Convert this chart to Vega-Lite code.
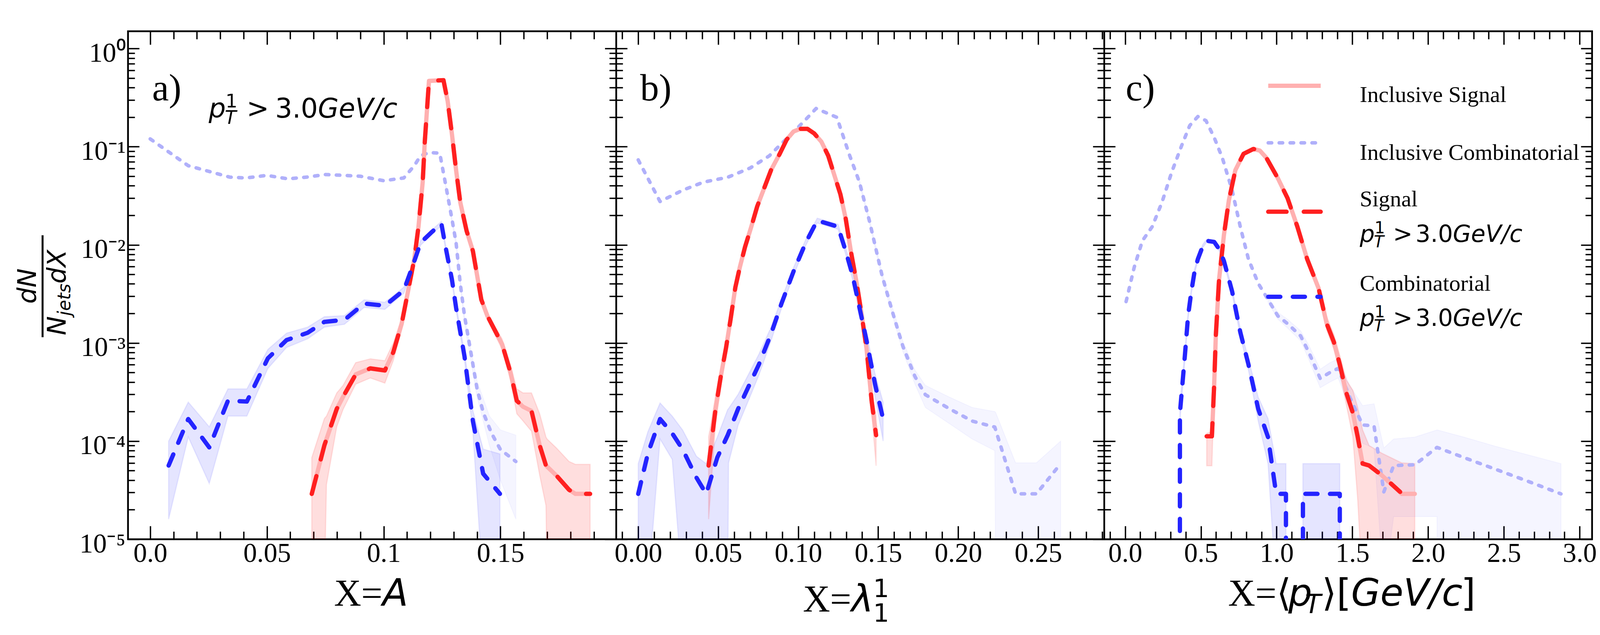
{
"$schema":"https://vega.github.io/schema/vega-lite/v6.json",
"background":"white",
"autosize":{"type":"none"},
"width":3748,"height":1300,
"padding":{"left":327.7,"top":80,"right":20.3,"bottom":245},
"config":{"view":{"stroke":"black","strokeWidth":4.5,"fill":null},"axis":{"domain":false,"grid":false,"tickColor":"black","labelColor":"black","tickCap":"butt"}},
"datasets":{
"lines":[
{"p":"a","s":"ic","x":0,"y":0.12},{"p":"a","s":"ic","x":0.0163,"y":0.064},{"p":"a","s":"ic","x":0.034,"y":0.049},{"p":"a","s":"ic","x":0.041,"y":0.048},{"p":"a","s":"ic","x":0.05,"y":0.051},{"p":"a","s":"ic","x":0.059,"y":0.047},{"p":"a","s":"ic","x":0.067,"y":0.049},{"p":"a","s":"ic","x":0.075,"y":0.052},{"p":"a","s":"ic","x":0.083,"y":0.051},{"p":"a","s":"ic","x":0.09,"y":0.05},{"p":"a","s":"ic","x":0.1,"y":0.045},{"p":"a","s":"ic","x":0.1086,"y":0.048},{"p":"a","s":"ic","x":0.1131,"y":0.064},{"p":"a","s":"ic","x":0.1158,"y":0.081},{"p":"a","s":"ic","x":0.1194,"y":0.087},{"p":"a","s":"ic","x":0.124,"y":0.086},{"p":"a","s":"ic","x":0.1265,"y":0.0415},{"p":"a","s":"ic","x":0.1292,"y":0.0185},{"p":"a","s":"ic","x":0.131,"y":0.0105},{"p":"a","s":"ic","x":0.1328,"y":0.004},{"p":"a","s":"ic","x":0.1346,"y":0.0019},{"p":"a","s":"ic","x":0.1373,"y":0.00081},{"p":"a","s":"ic","x":0.14,"y":0.00034},{"p":"a","s":"ic","x":0.1427,"y":0.000194},{"p":"a","s":"ic","x":0.1462,"y":0.00012},{"p":"a","s":"ic","x":0.15,"y":0.000082},{"p":"a","s":"ic","x":0.1566,"y":0.000062},
{"p":"a","s":"sig","x":0.0692,"y":0.000029},{"p":"a","s":"sig","x":0.0746,"y":0.0000906},{"p":"a","s":"sig","x":0.0799,"y":0.000213},{"p":"a","s":"sig","x":0.0826,"y":0.000283},{"p":"a","s":"sig","x":0.088,"y":0.000478},{"p":"a","s":"sig","x":0.0943,"y":0.000551},{"p":"a","s":"sig","x":0.1005,"y":0.000525},{"p":"a","s":"sig","x":0.1041,"y":0.000805},{"p":"a","s":"sig","x":0.1077,"y":0.00157},{"p":"a","s":"sig","x":0.1104,"y":0.00335},{"p":"a","s":"sig","x":0.1131,"y":0.00716},{"p":"a","s":"sig","x":0.1149,"y":0.0153},{"p":"a","s":"sig","x":0.1167,"y":0.0435},{"p":"a","s":"sig","x":0.1176,"y":0.1125},{"p":"a","s":"sig","x":0.1194,"y":0.468},{"p":"a","s":"sig","x":0.1256,"y":0.476},{"p":"a","s":"sig","x":0.1274,"y":0.291},{"p":"a","s":"sig","x":0.1292,"y":0.136},{"p":"a","s":"sig","x":0.131,"y":0.0578},{"p":"a","s":"sig","x":0.1328,"y":0.0271},{"p":"a","s":"sig","x":0.1355,"y":0.0139},{"p":"a","s":"sig","x":0.1382,"y":0.00865},{"p":"a","s":"sig","x":0.1418,"y":0.00277},{"p":"a","s":"sig","x":0.1444,"y":0.00189},{"p":"a","s":"sig","x":0.1507,"y":0.000973},{"p":"a","s":"sig","x":0.1543,"y":0.000501},{"p":"a","s":"sig","x":0.157,"y":0.000258},{"p":"a","s":"sig","x":0.1597,"y":0.000224},{"p":"a","s":"sig","x":0.1633,"y":0.000203},{"p":"a","s":"sig","x":0.1668,"y":0.0000906},{"p":"a","s":"sig","x":0.1695,"y":0.0000564},{"p":"a","s":"sig","x":0.174,"y":0.0000445},{"p":"a","s":"sig","x":0.1794,"y":0.0000319},{"p":"a","s":"sig","x":0.1821,"y":0.000029},{"p":"a","s":"sig","x":0.1884,"y":0.000029},
{"p":"a","s":"cb","x":0.00789,"y":0.0000564},{"p":"a","s":"cb","x":0.0163,"y":0.000168},{"p":"a","s":"cb","x":0.0253,"y":0.0000863},{"p":"a","s":"cb","x":0.0333,"y":0.000258},{"p":"a","s":"cb","x":0.0414,"y":0.000253},{"p":"a","s":"cb","x":0.0504,"y":0.000698},{"p":"a","s":"cb","x":0.0584,"y":0.00107},{"p":"a","s":"cb","x":0.0674,"y":0.00127},{"p":"a","s":"cb","x":0.0746,"y":0.00164},{"p":"a","s":"cb","x":0.0832,"y":0.00172},{"p":"a","s":"cb","x":0.0916,"y":0.00252},{"p":"a","s":"cb","x":0.1005,"y":0.0024},{"p":"a","s":"cb","x":0.1086,"y":0.00344},{"p":"a","s":"cb","x":0.1122,"y":0.0059},{"p":"a","s":"cb","x":0.1158,"y":0.0105},{"p":"a","s":"cb","x":0.1203,"y":0.0133},{"p":"a","s":"cb","x":0.1247,"y":0.0165},{"p":"a","s":"cb","x":0.1265,"y":0.00952},{"p":"a","s":"cb","x":0.1292,"y":0.00446},{"p":"a","s":"cb","x":0.131,"y":0.00229},{"p":"a","s":"cb","x":0.1346,"y":0.000732},{"p":"a","s":"cb","x":0.1382,"y":0.00016},{"p":"a","s":"cb","x":0.1426,"y":0.0000466},{"p":"a","s":"cb","x":0.1498,"y":0.000029},
{"p":"b","s":"ic","x":0,"y":0.0734},{"p":"b","s":"ic","x":0.01366,"y":0.0276},{"p":"b","s":"ic","x":0.02775,"y":0.036},{"p":"b","s":"ic","x":0.04076,"y":0.0435},{"p":"b","s":"ic","x":0.05594,"y":0.0488},{"p":"b","s":"ic","x":0.07003,"y":0.0607},{"p":"b","s":"ic","x":0.08196,"y":0.0807},{"p":"b","s":"ic","x":0.08955,"y":0.1074},{"p":"b","s":"ic","x":0.09605,"y":0.136},{"p":"b","s":"ic","x":0.1036,"y":0.181},{"p":"b","s":"ic","x":0.1112,"y":0.245},{"p":"b","s":"ic","x":0.1242,"y":0.199},{"p":"b","s":"ic","x":0.1318,"y":0.0846},{"p":"b","s":"ic","x":0.1383,"y":0.0435},{"p":"b","s":"ic","x":0.1448,"y":0.0168},{"p":"b","s":"ic","x":0.1524,"y":0.00489},{"p":"b","s":"ic","x":0.1589,"y":0.00208},{"p":"b","s":"ic","x":0.1654,"y":0.000929},{"p":"b","s":"ic","x":0.173,"y":0.000455},{"p":"b","s":"ic","x":0.1795,"y":0.000297},{"p":"b","s":"ic","x":0.1947,"y":0.000213},{"p":"b","s":"ic","x":0.2088,"y":0.00016},{"p":"b","s":"ic","x":0.2229,"y":0.000139},{"p":"b","s":"ic","x":0.2359,"y":0.000029},{"p":"b","s":"ic","x":0.2489,"y":0.000029},{"p":"b","s":"ic","x":0.2641,"y":0.000059},
{"p":"b","s":"sig","x":0.044,"y":0.0000564},{"p":"b","s":"sig","x":0.04835,"y":0.000213},{"p":"b","s":"sig","x":0.0516,"y":0.000455},{"p":"b","s":"sig","x":0.05486,"y":0.000885},{"p":"b","s":"sig","x":0.05768,"y":0.00172},{"p":"b","s":"sig","x":0.06071,"y":0.00368},{"p":"b","s":"sig","x":0.06353,"y":0.00592},{"p":"b","s":"sig","x":0.06678,"y":0.00952},{"p":"b","s":"sig","x":0.07069,"y":0.0153},{"p":"b","s":"sig","x":0.07437,"y":0.0246},{"p":"b","s":"sig","x":0.07871,"y":0.0377},{"p":"b","s":"sig","x":0.08305,"y":0.0578},{"p":"b","s":"sig","x":0.08846,"y":0.0846},{"p":"b","s":"sig","x":0.0928,"y":0.118},{"p":"b","s":"sig","x":0.09714,"y":0.143},{"p":"b","s":"sig","x":0.1015,"y":0.152},{"p":"b","s":"sig","x":0.1058,"y":0.152},{"p":"b","s":"sig","x":0.1101,"y":0.136},{"p":"b","s":"sig","x":0.1145,"y":0.1125},{"p":"b","s":"sig","x":0.1188,"y":0.0807},{"p":"b","s":"sig","x":0.1232,"y":0.0478},{"p":"b","s":"sig","x":0.1264,"y":0.0327},{"p":"b","s":"sig","x":0.1297,"y":0.0185},{"p":"b","s":"sig","x":0.1329,"y":0.00865},{"p":"b","s":"sig","x":0.1366,"y":0.00405},{"p":"b","s":"sig","x":0.1394,"y":0.00208},{"p":"b","s":"sig","x":0.1427,"y":0.000885},{"p":"b","s":"sig","x":0.1459,"y":0.000258},{"p":"b","s":"sig","x":0.1487,"y":0.000115},
{"p":"b","s":"cb","x":0,"y":0.000029},{"p":"b","s":"cb","x":0.00607,"y":0.000075},{"p":"b","s":"cb","x":0.01366,"y":0.000168},{"p":"b","s":"cb","x":0.02125,"y":0.00012},{"p":"b","s":"cb","x":0.02775,"y":0.0000824},{"p":"b","s":"cb","x":0.03643,"y":0.0000424},{"p":"b","s":"cb","x":0.0425,"y":0.000029},{"p":"b","s":"cb","x":0.04944,"y":0.0000681},{"p":"b","s":"cb","x":0.05594,"y":0.000115},{"p":"b","s":"cb","x":0.06245,"y":0.000213},{"p":"b","s":"cb","x":0.06895,"y":0.000359},{"p":"b","s":"cb","x":0.07546,"y":0.000605},{"p":"b","s":"cb","x":0.08305,"y":0.00124},{"p":"b","s":"cb","x":0.08955,"y":0.00252},{"p":"b","s":"cb","x":0.09714,"y":0.00538},{"p":"b","s":"cb","x":0.1047,"y":0.0105},{"p":"b","s":"cb","x":0.1119,"y":0.0177},{"p":"b","s":"cb","x":0.1249,"y":0.0153},{"p":"b","s":"cb","x":0.1297,"y":0.00865},{"p":"b","s":"cb","x":0.134,"y":0.00489},{"p":"b","s":"cb","x":0.1383,"y":0.00229},{"p":"b","s":"cb","x":0.1427,"y":0.00107},{"p":"b","s":"cb","x":0.1481,"y":0.000377},{"p":"b","s":"cb","x":0.1531,"y":0.000168},
{"p":"c","s":"ic","x":0.0065,"y":0.00264},{"p":"c","s":"ic","x":0.0603,"y":0.00592},{"p":"c","s":"ic","x":0.1141,"y":0.011},{"p":"c","s":"ic","x":0.1787,"y":0.0153},{"p":"c","s":"ic","x":0.2433,"y":0.0271},{"p":"c","s":"ic","x":0.3079,"y":0.0552},{"p":"c","s":"ic","x":0.3725,"y":0.102},{"p":"c","s":"ic","x":0.4264,"y":0.164},{"p":"c","s":"ic","x":0.4802,"y":0.203},{"p":"c","s":"ic","x":0.534,"y":0.184},{"p":"c","s":"ic","x":0.5879,"y":0.124},{"p":"c","s":"ic","x":0.6417,"y":0.0769},{"p":"c","s":"ic","x":0.7063,"y":0.036},{"p":"c","s":"ic","x":0.7601,"y":0.0153},{"p":"c","s":"ic","x":0.814,"y":0.00716},{"p":"c","s":"ic","x":0.8786,"y":0.00405},{"p":"c","s":"ic","x":0.9432,"y":0.00277},{"p":"c","s":"ic","x":1.0078,"y":0.00189},{"p":"c","s":"ic","x":1.0724,"y":0.00157},{"p":"c","s":"ic","x":1.1585,"y":0.00118},{"p":"c","s":"ic","x":1.2123,"y":0.000805},{"p":"c","s":"ic","x":1.2877,"y":0.000435},{"p":"c","s":"ic","x":1.3523,"y":0.000501},{"p":"c","s":"ic","x":1.4061,"y":0.000551},{"p":"c","s":"ic","x":1.4815,"y":0.000283},{"p":"c","s":"ic","x":1.5676,"y":0.000146},{"p":"c","s":"ic","x":1.643,"y":0.000143},{"p":"c","s":"ic","x":1.7076,"y":0.0000304},{"p":"c","s":"ic","x":1.7722,"y":0.0000564},{"p":"c","s":"ic","x":1.9121,"y":0.0000574},{"p":"c","s":"ic","x":2.0586,"y":0.0000863},{"p":"c","s":"ic","x":2.2351,"y":0.0000681},{"p":"c","s":"ic","x":2.4505,"y":0.0000513},{"p":"c","s":"ic","x":2.6658,"y":0.0000386},{"p":"c","s":"ic","x":2.8768,"y":0.000029},
{"p":"c","s":"sig","x":0.5383,"y":0.000112},{"p":"c","s":"sig","x":0.5728,"y":0.000112},{"p":"c","s":"sig","x":0.5879,"y":0.000377},{"p":"c","s":"sig","x":0.5986,"y":0.00118},{"p":"c","s":"sig","x":0.6202,"y":0.00446},{"p":"c","s":"sig","x":0.6525,"y":0.0127},{"p":"c","s":"sig","x":0.6848,"y":0.0284},{"p":"c","s":"sig","x":0.7278,"y":0.0578},{"p":"c","s":"sig","x":0.7817,"y":0.0846},{"p":"c","s":"sig","x":0.8463,"y":0.0948},{"p":"c","s":"sig","x":0.8893,"y":0.0913},{"p":"c","s":"sig","x":0.9324,"y":0.0769},{"p":"c","s":"sig","x":1.0078,"y":0.0478},{"p":"c","s":"sig","x":1.0724,"y":0.0298},{"p":"c","s":"sig","x":1.137,"y":0.0153},{"p":"c","s":"sig","x":1.2016,"y":0.00716},{"p":"c","s":"sig","x":1.2769,"y":0.00361},{"p":"c","s":"sig","x":1.3307,"y":0.00157},{"p":"c","s":"sig","x":1.3781,"y":0.00102},{"p":"c","s":"sig","x":1.4169,"y":0.000605},{"p":"c","s":"sig","x":1.4599,"y":0.000311},{"p":"c","s":"sig","x":1.503,"y":0.000194},{"p":"c","s":"sig","x":1.5353,"y":0.00011},{"p":"c","s":"sig","x":1.5676,"y":0.000059},{"p":"c","s":"sig","x":1.6107,"y":0.0000564},{"p":"c","s":"sig","x":1.6968,"y":0.0000445},{"p":"c","s":"is","x":1.826,"y":0.000029},{"p":"c","s":"is","x":1.9121,"y":0.000029},{"p":"c","s":"sg","x":1.8152,"y":0.0000304},
{"p":"c","s":"cb","x":0.3574,"y":1e-30},{"p":"c","s":"cb","x":0.3618,"y":0.000194},{"p":"c","s":"cb","x":0.3941,"y":0.000732},{"p":"c","s":"cb","x":0.4156,"y":0.00189},{"p":"c","s":"cb","x":0.4371,"y":0.00335},{"p":"c","s":"cb","x":0.4587,"y":0.00538},{"p":"c","s":"cb","x":0.4802,"y":0.00716},{"p":"c","s":"cb","x":0.5125,"y":0.0097},{"p":"c","s":"cb","x":0.5383,"y":0.011},{"p":"c","s":"cb","x":0.5879,"y":0.0107},{"p":"c","s":"cb","x":0.6202,"y":0.00908},{"p":"c","s":"cb","x":0.6525,"y":0.00683},{"p":"c","s":"cb","x":0.7063,"y":0.00335},{"p":"c","s":"cb","x":0.7601,"y":0.00129},{"p":"c","s":"cb","x":0.814,"y":0.000605},{"p":"c","s":"cb","x":0.8786,"y":0.000213},{"p":"c","s":"cb","x":0.9432,"y":0.00011},{"p":"c","s":"cb","x":0.997,"y":0.000029},{"p":"c","s":"cb","x":1.0616,"y":0.000029},{"p":"c","s":"cb","x":1.0638,"y":1e-30},{"p":"c","s":"cb","x":1.1714,"y":1e-30},{"p":"c","s":"cb","x":1.1736,"y":0.000029},{"p":"c","s":"cb","x":1.4169,"y":0.000029},{"p":"c","s":"cb","x":1.419,"y":1e-30}
],
"bands":[
{"p":"a","s":"ic","x":0.1265,"lo":0.038,"hi":0.042},{"p":"a","s":"ic","x":0.131,"lo":0.0098,"hi":0.0112},{"p":"a","s":"ic","x":0.1346,"lo":0.00155,"hi":0.00185},{"p":"a","s":"ic","x":0.14,"lo":0.00028,"hi":0.00041},{"p":"a","s":"ic","x":0.1453,"lo":0.00009,"hi":0.00018},{"p":"a","s":"ic","x":0.15,"lo":0.00004,"hi":0.00013},{"p":"a","s":"ic","x":0.1566,"lo":0.000016,"hi":0.000115},
{"p":"a","s":"cb","x":0.00789,"lo":0.000016,"hi":0.0001},{"p":"a","s":"cb","x":0.0163,"lo":0.00011,"hi":0.00025},{"p":"a","s":"cb","x":0.0253,"lo":0.000037,"hi":0.00014},{"p":"a","s":"cb","x":0.0333,"lo":0.00018,"hi":0.00034},{"p":"a","s":"cb","x":0.0414,"lo":0.00018,"hi":0.00034},{"p":"a","s":"cb","x":0.0504,"lo":0.00055,"hi":0.00086},{"p":"a","s":"cb","x":0.0584,"lo":0.0009,"hi":0.00126},{"p":"a","s":"cb","x":0.0674,"lo":0.0011,"hi":0.00145},{"p":"a","s":"cb","x":0.0746,"lo":0.00145,"hi":0.00185},{"p":"a","s":"cb","x":0.0832,"lo":0.00155,"hi":0.0019},{"p":"a","s":"cb","x":0.0916,"lo":0.0023,"hi":0.00275},{"p":"a","s":"cb","x":0.1005,"lo":0.0022,"hi":0.0026},{"p":"a","s":"cb","x":0.1086,"lo":0.0032,"hi":0.0037},{"p":"a","s":"cb","x":0.1122,"lo":0.0055,"hi":0.0063},{"p":"a","s":"cb","x":0.1158,"lo":0.0099,"hi":0.0111},{"p":"a","s":"cb","x":0.1203,"lo":0.0126,"hi":0.014},{"p":"a","s":"cb","x":0.1247,"lo":0.0157,"hi":0.0173},{"p":"a","s":"cb","x":0.1265,"lo":0.009,"hi":0.0101},{"p":"a","s":"cb","x":0.1292,"lo":0.0042,"hi":0.0047},{"p":"a","s":"cb","x":0.131,"lo":0.00215,"hi":0.00245},{"p":"a","s":"cb","x":0.1346,"lo":0.00067,"hi":0.0008},{"p":"a","s":"cb","x":0.1382,"lo":0.000125,"hi":0.000205},{"p":"a","s":"cb","x":0.1426,"lo":0.000003,"hi":0.000083},{"p":"a","s":"cb","x":0.1498,"lo":0.000003,"hi":0.000074},
{"p":"a","s":"sg","x":0.0692,"lo":0.000003,"hi":0.000068},{"p":"a","s":"sg","x":0.0746,"lo":0.000003,"hi":0.00017},{"p":"a","s":"sg","x":0.0755,"lo":0.000036,"hi":0.00018},{"p":"a","s":"sg","x":0.0799,"lo":0.00014,"hi":0.00031},{"p":"a","s":"sg","x":0.0826,"lo":0.00021,"hi":0.00037},{"p":"a","s":"sg","x":0.088,"lo":0.00038,"hi":0.00063},{"p":"a","s":"sg","x":0.0943,"lo":0.00044,"hi":0.00069},{"p":"a","s":"sg","x":0.1005,"lo":0.00039,"hi":0.00066},{"p":"a","s":"sg","x":0.1041,"lo":0.00066,"hi":0.001},{"p":"a","s":"sg","x":0.1077,"lo":0.00138,"hi":0.00178},{"p":"a","s":"sg","x":0.1104,"lo":0.00305,"hi":0.00365},{"p":"a","s":"sg","x":0.1131,"lo":0.0067,"hi":0.0076},{"p":"a","s":"sg","x":0.1149,"lo":0.0145,"hi":0.0161},{"p":"a","s":"sg","x":0.1167,"lo":0.0418,"hi":0.0452},{"p":"a","s":"sg","x":0.1176,"lo":0.109,"hi":0.116},{"p":"a","s":"sg","x":0.1194,"lo":0.46,"hi":0.476},{"p":"a","s":"sg","x":0.1256,"lo":0.468,"hi":0.484},{"p":"a","s":"sg","x":0.1274,"lo":0.286,"hi":0.296},{"p":"a","s":"sg","x":0.1292,"lo":0.133,"hi":0.139},{"p":"a","s":"sg","x":0.131,"lo":0.0565,"hi":0.059},{"p":"a","s":"sg","x":0.1328,"lo":0.0263,"hi":0.0279},{"p":"a","s":"sg","x":0.1355,"lo":0.0134,"hi":0.0144},{"p":"a","s":"sg","x":0.1382,"lo":0.0083,"hi":0.009},{"p":"a","s":"sg","x":0.1418,"lo":0.00265,"hi":0.0029},{"p":"a","s":"sg","x":0.1444,"lo":0.00175,"hi":0.00203},{"p":"a","s":"sg","x":0.1507,"lo":0.00086,"hi":0.0011},{"p":"a","s":"sg","x":0.1543,"lo":0.00042,"hi":0.0006},{"p":"a","s":"sg","x":0.157,"lo":0.00019,"hi":0.00034},{"p":"a","s":"sg","x":0.1597,"lo":0.00016,"hi":0.00031},{"p":"a","s":"sg","x":0.1633,"lo":0.000126,"hi":0.00031},{"p":"a","s":"sg","x":0.1668,"lo":0.000045,"hi":0.00019},{"p":"a","s":"sg","x":0.1695,"lo":0.000022,"hi":0.00011},{"p":"a","s":"sg","x":0.17,"lo":0.000003,"hi":0.000105},{"p":"a","s":"sg","x":0.174,"lo":0.000003,"hi":0.000085},{"p":"a","s":"sg","x":0.1794,"lo":0.000003,"hi":0.000062},{"p":"a","s":"sg","x":0.1821,"lo":0.000003,"hi":0.000058},{"p":"a","s":"sg","x":0.1884,"lo":0.000003,"hi":0.000058},
{"p":"b","s":"ic","x":0.1383,"lo":0.041,"hi":0.046},{"p":"b","s":"ic","x":0.1448,"lo":0.0158,"hi":0.0178},{"p":"b","s":"ic","x":0.1524,"lo":0.00455,"hi":0.00525},{"p":"b","s":"ic","x":0.1589,"lo":0.0019,"hi":0.0023},{"p":"b","s":"ic","x":0.1654,"lo":0.00082,"hi":0.00105},{"p":"b","s":"ic","x":0.173,"lo":0.00038,"hi":0.00053},{"p":"b","s":"ic","x":0.1795,"lo":0.00022,"hi":0.00037},{"p":"b","s":"ic","x":0.1947,"lo":0.00015,"hi":0.00028},{"p":"b","s":"ic","x":0.2088,"lo":0.000105,"hi":0.00022},{"p":"b","s":"ic","x":0.2229,"lo":0.00008,"hi":0.0002},{"p":"b","s":"ic","x":0.2235,"lo":0.000003,"hi":0.000195},{"p":"b","s":"ic","x":0.2359,"lo":0.000003,"hi":0.00006},{"p":"b","s":"ic","x":0.2489,"lo":0.000003,"hi":0.00006},{"p":"b","s":"ic","x":0.2641,"lo":0.000003,"hi":0.0001},
{"p":"b","s":"sg","x":0.044,"lo":0.000016,"hi":0.00011},{"p":"b","s":"sg","x":0.04835,"lo":0.00015,"hi":0.00029},{"p":"b","s":"sg","x":0.0516,"lo":0.00036,"hi":0.00055},{"p":"b","s":"sg","x":0.05486,"lo":0.00076,"hi":0.00102},{"p":"b","s":"sg","x":0.05768,"lo":0.00155,"hi":0.0019},{"p":"b","s":"sg","x":0.06071,"lo":0.0034,"hi":0.00395},{"p":"b","s":"sg","x":0.06353,"lo":0.0056,"hi":0.0062},{"p":"b","s":"sg","x":0.06678,"lo":0.0091,"hi":0.00995},{"p":"b","s":"sg","x":0.07069,"lo":0.0147,"hi":0.0159},{"p":"b","s":"sg","x":0.07437,"lo":0.0237,"hi":0.0255},{"p":"b","s":"sg","x":0.07871,"lo":0.0364,"hi":0.039},{"p":"b","s":"sg","x":0.08305,"lo":0.0561,"hi":0.0595},{"p":"b","s":"sg","x":0.08846,"lo":0.0825,"hi":0.0867},{"p":"b","s":"sg","x":0.0928,"lo":0.116,"hi":0.12},{"p":"b","s":"sg","x":0.09714,"lo":0.141,"hi":0.145},{"p":"b","s":"sg","x":0.1015,"lo":0.15,"hi":0.154},{"p":"b","s":"sg","x":0.1058,"lo":0.15,"hi":0.154},{"p":"b","s":"sg","x":0.1101,"lo":0.134,"hi":0.138},{"p":"b","s":"sg","x":0.1145,"lo":0.111,"hi":0.114},{"p":"b","s":"sg","x":0.1188,"lo":0.0795,"hi":0.082},{"p":"b","s":"sg","x":0.1232,"lo":0.0468,"hi":0.0488},{"p":"b","s":"sg","x":0.1264,"lo":0.0318,"hi":0.0336},{"p":"b","s":"sg","x":0.1297,"lo":0.0178,"hi":0.0192},{"p":"b","s":"sg","x":0.1329,"lo":0.0082,"hi":0.0091},{"p":"b","s":"sg","x":0.1366,"lo":0.0038,"hi":0.0043},{"p":"b","s":"sg","x":0.1394,"lo":0.0019,"hi":0.00226},{"p":"b","s":"sg","x":0.1427,"lo":0.00078,"hi":0.001},{"p":"b","s":"sg","x":0.1459,"lo":0.0002,"hi":0.00033},{"p":"b","s":"sg","x":0.1487,"lo":0.000056,"hi":0.00018},
{"p":"b","s":"cb","x":0,"lo":0.000003,"hi":0.000059},{"p":"b","s":"cb","x":0.00607,"lo":0.000003,"hi":0.000125},{"p":"b","s":"cb","x":0.01366,"lo":0.000105,"hi":0.000245},{"p":"b","s":"cb","x":0.02125,"lo":0.000065,"hi":0.00018},{"p":"b","s":"cb","x":0.02775,"lo":0.000003,"hi":0.00013},{"p":"b","s":"cb","x":0.03643,"lo":0.000003,"hi":0.00007},{"p":"b","s":"cb","x":0.0425,"lo":0.000003,"hi":0.000059},{"p":"b","s":"cb","x":0.04944,"lo":0.000003,"hi":0.00011},{"p":"b","s":"cb","x":0.05594,"lo":0.000003,"hi":0.00021},{"p":"b","s":"cb","x":0.0565,"lo":0.00006,"hi":0.000215},{"p":"b","s":"cb","x":0.06245,"lo":0.000145,"hi":0.0003},{"p":"b","s":"cb","x":0.06895,"lo":0.00026,"hi":0.00048},{"p":"b","s":"cb","x":0.07546,"lo":0.00047,"hi":0.00077},{"p":"b","s":"cb","x":0.08305,"lo":0.00105,"hi":0.00145},{"p":"b","s":"cb","x":0.08955,"lo":0.00225,"hi":0.0028},{"p":"b","s":"cb","x":0.09714,"lo":0.0049,"hi":0.0059},{"p":"b","s":"cb","x":0.1047,"lo":0.0098,"hi":0.0113},{"p":"b","s":"cb","x":0.1119,"lo":0.0167,"hi":0.0187},{"p":"b","s":"cb","x":0.1249,"lo":0.0144,"hi":0.0162},{"p":"b","s":"cb","x":0.1297,"lo":0.008,"hi":0.0093},{"p":"b","s":"cb","x":0.134,"lo":0.0044,"hi":0.0054},{"p":"b","s":"cb","x":0.1383,"lo":0.002,"hi":0.0026},{"p":"b","s":"cb","x":0.1427,"lo":0.00089,"hi":0.00125},{"p":"b","s":"cb","x":0.1481,"lo":0.00028,"hi":0.00048},{"p":"b","s":"cb","x":0.1531,"lo":0.0001,"hi":0.00025},
{"p":"c","s":"ic","x":0.9432,"lo":0.0026,"hi":0.00295},{"p":"c","s":"ic","x":1.0078,"lo":0.00175,"hi":0.00205},{"p":"c","s":"ic","x":1.0724,"lo":0.00142,"hi":0.00174},{"p":"c","s":"ic","x":1.1585,"lo":0.00105,"hi":0.00133},{"p":"c","s":"ic","x":1.2123,"lo":0.00068,"hi":0.00095},{"p":"c","s":"ic","x":1.2877,"lo":0.00035,"hi":0.00054},{"p":"c","s":"ic","x":1.3523,"lo":0.0004,"hi":0.00063},{"p":"c","s":"ic","x":1.4061,"lo":0.00044,"hi":0.00069},{"p":"c","s":"ic","x":1.4815,"lo":0.000215,"hi":0.00037},{"p":"c","s":"ic","x":1.5676,"lo":0.000095,"hi":0.00023},{"p":"c","s":"ic","x":1.643,"lo":0.000085,"hi":0.00024},{"p":"c","s":"ic","x":1.7076,"lo":0.000003,"hi":0.000085},{"p":"c","s":"ic","x":1.7722,"lo":0.000017,"hi":0.000105},{"p":"c","s":"ic","x":1.9121,"lo":0.000017,"hi":0.00011},{"p":"c","s":"ic","x":2.0586,"lo":0.000017,"hi":0.00013},{"p":"c","s":"ic","x":2.06,"lo":0.000003,"hi":0.00013},{"p":"c","s":"ic","x":2.2351,"lo":0.000003,"hi":0.00011},{"p":"c","s":"ic","x":2.4505,"lo":0.000003,"hi":0.000088},{"p":"c","s":"ic","x":2.6658,"lo":0.000003,"hi":0.000072},{"p":"c","s":"ic","x":2.8768,"lo":0.000003,"hi":0.000059},
{"p":"c","s":"sg","x":0.5383,"lo":0.000056,"hi":0.00012},{"p":"c","s":"sg","x":0.5728,"lo":0.000056,"hi":0.000125},{"p":"c","s":"sg","x":0.5879,"lo":0.00032,"hi":0.00044},{"p":"c","s":"sg","x":0.5986,"lo":0.00107,"hi":0.0013},{"p":"c","s":"sg","x":0.6202,"lo":0.0042,"hi":0.00475},{"p":"c","s":"sg","x":0.6525,"lo":0.0121,"hi":0.0133},{"p":"c","s":"sg","x":0.6848,"lo":0.0273,"hi":0.0295},{"p":"c","s":"sg","x":0.7278,"lo":0.0562,"hi":0.0594},{"p":"c","s":"sg","x":0.7817,"lo":0.0826,"hi":0.0866},{"p":"c","s":"sg","x":0.8463,"lo":0.0928,"hi":0.0968},{"p":"c","s":"sg","x":0.8893,"lo":0.0893,"hi":0.0933},{"p":"c","s":"sg","x":0.9324,"lo":0.0752,"hi":0.0786},{"p":"c","s":"sg","x":1.0078,"lo":0.0466,"hi":0.049},{"p":"c","s":"sg","x":1.0724,"lo":0.029,"hi":0.0306},{"p":"c","s":"sg","x":1.137,"lo":0.0148,"hi":0.0158},{"p":"c","s":"sg","x":1.2016,"lo":0.00685,"hi":0.0075},{"p":"c","s":"sg","x":1.2769,"lo":0.0034,"hi":0.00385},{"p":"c","s":"sg","x":1.3307,"lo":0.00135,"hi":0.00185},{"p":"c","s":"sg","x":1.3781,"lo":0.00086,"hi":0.00122},{"p":"c","s":"sg","x":1.4169,"lo":0.00049,"hi":0.00075},{"p":"c","s":"sg","x":1.4599,"lo":0.000235,"hi":0.00042},{"p":"c","s":"sg","x":1.503,"lo":0.00011,"hi":0.00033},{"p":"c","s":"sg","x":1.5353,"lo":0.000025,"hi":0.00022},{"p":"c","s":"sg","x":1.5676,"lo":0.000003,"hi":0.00013},{"p":"c","s":"sg","x":1.6107,"lo":0.000003,"hi":0.00009},{"p":"c","s":"sg","x":1.6968,"lo":0.000003,"hi":0.000075},{"p":"c","s":"sg","x":1.826,"lo":0.000003,"hi":0.00006},{"p":"c","s":"sg","x":1.9121,"lo":0.000003,"hi":0.000059},
{"p":"c","s":"cb","x":0.3618,"lo":0.00016,"hi":0.00024},{"p":"c","s":"cb","x":0.3941,"lo":0.00065,"hi":0.00082},{"p":"c","s":"cb","x":0.4156,"lo":0.00175,"hi":0.00205},{"p":"c","s":"cb","x":0.4371,"lo":0.00315,"hi":0.00355},{"p":"c","s":"cb","x":0.4587,"lo":0.0051,"hi":0.0057},{"p":"c","s":"cb","x":0.4802,"lo":0.00685,"hi":0.0075},{"p":"c","s":"cb","x":0.5125,"lo":0.00935,"hi":0.0101},{"p":"c","s":"cb","x":0.5383,"lo":0.0106,"hi":0.0114},{"p":"c","s":"cb","x":0.5879,"lo":0.0103,"hi":0.0111},{"p":"c","s":"cb","x":0.6202,"lo":0.0087,"hi":0.0095},{"p":"c","s":"cb","x":0.6525,"lo":0.0065,"hi":0.0072},{"p":"c","s":"cb","x":0.7063,"lo":0.00315,"hi":0.0036},{"p":"c","s":"cb","x":0.7601,"lo":0.00118,"hi":0.00142},{"p":"c","s":"cb","x":0.814,"lo":0.00053,"hi":0.00069},{"p":"c","s":"cb","x":0.8786,"lo":0.00016,"hi":0.00028},{"p":"c","s":"cb","x":0.9432,"lo":0.000059,"hi":0.00017},{"p":"c","s":"cb","x":0.997,"lo":0.000003,"hi":0.000059},{"p":"c","s":"cb","x":1.0616,"lo":0.000003,"hi":0.000059},{"p":"c","s":"cb","x":1.0638,"lo":1e-30,"hi":1e-30},{"p":"c","s":"cb","x":1.1714,"lo":1e-30,"hi":1e-30},{"p":"c","s":"cb","x":1.1736,"lo":0.000003,"hi":0.000059},{"p":"c","s":"cb","x":1.4169,"lo":0.000003,"hi":0.000059},{"p":"c","s":"cb","x":1.419,"lo":1e-30,"hi":1e-30}
]
},
"resolve":{"scale":{"x":"independent"},"axis":{"x":"independent","y":"independent"}},
"layer":[
{"resolve":{"axis":{"x":"independent","y":"independent"}},
"layer":[
{"data":{"name":"bands"},"transform":[{"filter":"datum.p=='a'&&datum.s=='ic'"}],"mark":{"type":"area","clip":true,"fill":"#0000ff","fillOpacity":0.04,"stroke":"#0000ff","strokeOpacity":0.04,"strokeWidth":2},
"encoding":{"x":{"field":"x","type":"quantitative","scale":{"domain":[-0.0095,0.1995],"range":[0,1249.33],"nice":false,"zero":false},"axis":{"orient":"bottom","values":[0,0.05,0.1,0.15],"labelExpr":"datum.value==0?'0.0':datum.value<0.075?'0.05':datum.value<0.125?'0.1':'0.15'","ticks":false,"labelFont":"Liberation Serif","labelFontSize":69.7,"labelPadding":2,"labelFlush":false,"labelOverlap":false,"labelBound":false,"title":null}},
"y":{"field":"lo","type":"quantitative","scale":{"type":"log","domain":[0.00001,1.5],"nice":false},"axis":{"orient":"left","values":[0.00001,0.0001,0.001,0.01,0.1,1],"labelExpr":"datum.value>0.5?'10⁰':datum.value>0.05?'10⁻¹':datum.value>0.005?'10⁻²':datum.value>0.0005?'10⁻³':datum.value>0.00005?'10⁻⁴':'10⁻⁵'","ticks":false,"labelFont":"Liberation Serif","labelFontSize":69.7,"labelPadding":6.6,"labelOffset":12,"labelFlush":false,"labelOverlap":false,"labelBound":false,"title":null}},"y2":{"field":"hi"}}},
{"data":{"name":"bands"},"transform":[{"filter":"datum.p=='a'&&datum.s=='cb'"}],"mark":{"type":"area","clip":true,"fill":"#0000ff","fillOpacity":0.1,"stroke":"#0000ff","strokeOpacity":0.08,"strokeWidth":3},
"encoding":{"x":{"field":"x","type":"quantitative","scale":{"domain":[-0.0095,0.1995],"range":[0,1249.33],"nice":false,"zero":false},"axis":{"orient":"bottom","values":[0,0.05,0.1,0.15],"labels":false,"tickSize":-34,"tickWidth":3.5,"title":null}},
"y":{"field":"lo","type":"quantitative","scale":{"type":"log","domain":[0.00001,1.5],"nice":false},"axis":{"orient":"left","values":[0.00001,0.0001,0.001,0.01,0.1,1],"labels":false,"tickSize":-28.7,"tickWidth":3.5,"title":null}},"y2":{"field":"hi"}}},
{"data":{"name":"bands"},"transform":[{"filter":"datum.p=='a'&&datum.s=='sg'"}],"mark":{"type":"area","clip":true,"fill":"#ff0000","fillOpacity":0.13,"stroke":"#ff0000","strokeOpacity":0.1,"strokeWidth":3},
"encoding":{"x":{"field":"x","type":"quantitative","scale":{"domain":[-0.0095,0.1995],"range":[0,1249.33],"nice":false,"zero":false},"axis":{"orient":"bottom","values":[0.01,0.02,0.03,0.04,0.06,0.07,0.08,0.09,0.11,0.12,0.13,0.14,0.16,0.17,0.18,0.19],"labels":false,"tickSize":-20,"tickWidth":3.5,"title":null}},
"y":{"field":"lo","type":"quantitative","scale":{"type":"log","domain":[0.00001,1.5],"nice":false},"axis":{"orient":"left","values":[0.00002,0.00003,0.00004,0.00005,0.00006,0.00007,0.00008,0.00009,0.0002,0.0003,0.0004,0.0005,0.0006,0.0007,0.0008,0.0009,0.002,0.003,0.004,0.005,0.006,0.007,0.008,0.009,0.02,0.03,0.04,0.05,0.06,0.07,0.08,0.09,0.2,0.3,0.4,0.5,0.6,0.7,0.8,0.9],"labels":false,"tickSize":-17.2,"tickWidth":3.5,"title":null}},"y2":{"field":"hi"}}},
{"data":{"name":"lines"},"transform":[{"filter":"datum.p=='a'&&datum.s=='ic'"}],"mark":{"type":"line","clip":true,"stroke":"#b0b0fa","strokeWidth":9,"strokeDash":[9,19],"strokeCap":"round","strokeJoin":"round"},
"encoding":{"x":{"field":"x","type":"quantitative","scale":{"domain":[-0.0095,0.1995],"range":[0,1249.33],"nice":false,"zero":false},"axis":{"orient":"top","values":[0,0.05,0.1,0.15],"labels":false,"tickSize":-34,"tickWidth":3.5,"title":null}},
"y":{"field":"y","type":"quantitative","scale":{"type":"log","domain":[0.00001,1.5],"nice":false},"axis":{"orient":"right","offset":-2498.67,"values":[0.00001,0.0001,0.001,0.01,0.1,1],"labels":false,"tickSize":-28.7,"tickWidth":3.5,"title":null}}}},
{"data":{"name":"lines"},"transform":[{"filter":"datum.p=='a'&&(datum.s=='sig'||datum.s=='is')"}],"mark":{"type":"line","clip":true,"stroke":"#ffb0b0","strokeWidth":11,"strokeCap":"round","strokeJoin":"round"},
"encoding":{"x":{"field":"x","type":"quantitative","scale":{"domain":[-0.0095,0.1995],"range":[0,1249.33],"nice":false,"zero":false},"axis":{"orient":"top","values":[0.01,0.02,0.03,0.04,0.06,0.07,0.08,0.09,0.11,0.12,0.13,0.14,0.16,0.17,0.18,0.19],"labels":false,"tickSize":-20,"tickWidth":3.5,"title":null}},
"y":{"field":"y","type":"quantitative","scale":{"type":"log","domain":[0.00001,1.5],"nice":false},"axis":{"orient":"right","offset":-2498.67,"values":[0.00002,0.00003,0.00004,0.00005,0.00006,0.00007,0.00008,0.00009,0.0002,0.0003,0.0004,0.0005,0.0006,0.0007,0.0008,0.0009,0.002,0.003,0.004,0.005,0.006,0.007,0.008,0.009,0.02,0.03,0.04,0.05,0.06,0.07,0.08,0.09,0.2,0.3,0.4,0.5,0.6,0.7,0.8,0.9],"labels":false,"tickSize":-17.2,"tickWidth":3.5,"title":null}}}},
{"data":{"name":"lines"},"transform":[{"filter":"datum.p=='a'&&(datum.s=='sig'||datum.s=='sg')"}],"mark":{"type":"line","clip":true,"stroke":"#ff2020","strokeWidth":11,"strokeDash":[47,44],"strokeCap":"round","strokeJoin":"round"},
"encoding":{"x":{"field":"x","type":"quantitative","scale":{"domain":[-0.0095,0.1995],"range":[0,1249.33],"nice":false,"zero":false},"axis":null},"y":{"field":"y","type":"quantitative","scale":{"type":"log","domain":[0.00001,1.5],"nice":false},"axis":null}}},
{"data":{"name":"lines"},"transform":[{"filter":"datum.p=='a'&&datum.s=='cb'"}],"mark":{"type":"line","clip":true,"stroke":"#2424ff","strokeWidth":11,"strokeDash":[31,32],"strokeCap":"round","strokeJoin":"round"},
"encoding":{"x":{"field":"x","type":"quantitative","scale":{"domain":[-0.0095,0.1995],"range":[0,1249.33],"nice":false,"zero":false},"axis":null},"y":{"field":"y","type":"quantitative","scale":{"type":"log","domain":[0.00001,1.5],"nice":false},"axis":null}}},
{"data":{"values":[{}]},"mark":{"type":"text","text":"a)","font":"Liberation Serif","fontSize":96.3,"align":"left","baseline":"alphabetic","color":"black"},
"encoding":{"x":{"datum":0.00085,"type":"quantitative","scale":{"domain":[-0.0095,0.1995],"range":[0,1249.33],"nice":false,"zero":false},"axis":null},"y":{"datum":0.296,"type":"quantitative","scale":{"type":"log","domain":[0.00001,1.5],"nice":false},"axis":null}}},
{"data":{"values":[{}]},"mark":{"type":"text","text":"p","font":"DejaVu Sans","fontStyle":"italic","fontSize":68.8,"align":"left","baseline":"alphabetic","color":"black"},
"encoding":{"x":{"datum":0.02504,"type":"quantitative","scale":{"domain":[-0.0095,0.1995],"range":[0,1249.33],"nice":false,"zero":false},"axis":null},"y":{"datum":0.1977,"type":"quantitative","scale":{"type":"log","domain":[0.00001,1.5],"nice":false},"axis":null}}},
{"data":{"values":[{}]},"mark":{"type":"text","text":"1","font":"DejaVu Sans","fontSize":48.2,"align":"left","baseline":"alphabetic","dx":43,"dy":-25.8,"color":"black"},
"encoding":{"x":{"datum":0.02504,"type":"quantitative","scale":{"domain":[-0.0095,0.1995],"range":[0,1249.33],"nice":false,"zero":false},"axis":null},"y":{"datum":0.1977,"type":"quantitative","scale":{"type":"log","domain":[0.00001,1.5],"nice":false},"axis":null}}},
{"data":{"values":[{}]},"mark":{"type":"text","text":"T","font":"DejaVu Sans","fontStyle":"italic","fontSize":48.2,"align":"left","baseline":"alphabetic","dx":41.3,"dy":15.5,"color":"black"},
"encoding":{"x":{"datum":0.02504,"type":"quantitative","scale":{"domain":[-0.0095,0.1995],"range":[0,1249.33],"nice":false,"zero":false},"axis":null},"y":{"datum":0.1977,"type":"quantitative","scale":{"type":"log","domain":[0.00001,1.5],"nice":false},"axis":null}}},
{"data":{"values":[{}]},"mark":{"type":"text","text":">","font":"DejaVu Sans","fontSize":68.8,"align":"left","baseline":"alphabetic","dx":97.2,"color":"black"},
"encoding":{"x":{"datum":0.02504,"type":"quantitative","scale":{"domain":[-0.0095,0.1995],"range":[0,1249.33],"nice":false,"zero":false},"axis":null},"y":{"datum":0.1977,"type":"quantitative","scale":{"type":"log","domain":[0.00001,1.5],"nice":false},"axis":null}}},
{"data":{"values":[{}]},"mark":{"type":"text","text":"3.0","font":"DejaVu Sans","fontSize":68.8,"align":"left","baseline":"alphabetic","dx":170.3,"color":"black"},
"encoding":{"x":{"datum":0.02504,"type":"quantitative","scale":{"domain":[-0.0095,0.1995],"range":[0,1249.33],"nice":false,"zero":false},"axis":null},"y":{"datum":0.1977,"type":"quantitative","scale":{"type":"log","domain":[0.00001,1.5],"nice":false},"axis":null}}},
{"data":{"values":[{}]},"mark":{"type":"text","text":"GeV/c","font":"DejaVu Sans","fontStyle":"italic","fontSize":68.8,"align":"left","baseline":"alphabetic","dx":279.5,"color":"black"},
"encoding":{"x":{"datum":0.02504,"type":"quantitative","scale":{"domain":[-0.0095,0.1995],"range":[0,1249.33],"nice":false,"zero":false},"axis":null},"y":{"datum":0.1977,"type":"quantitative","scale":{"type":"log","domain":[0.00001,1.5],"nice":false},"axis":null}}},
{"data":{"values":[{}]},"mark":{"type":"text","text":"X=","font":"Liberation Serif","fontSize":96.3,"align":"right","baseline":"alphabetic","color":"black"},
"encoding":{"x":{"datum":0.09946,"type":"quantitative","scale":{"domain":[-0.0095,0.1995],"range":[0,1249.33],"nice":false,"zero":false},"axis":null},"y":{"datum":0.000002104,"type":"quantitative","scale":{"type":"log","domain":[0.00001,1.5],"nice":false},"axis":null}}},
{"data":{"values":[{}]},"mark":{"type":"text","text":"A","font":"DejaVu Sans","fontStyle":"italic","fontSize":96.3,"align":"left","baseline":"alphabetic","color":"black"},
"encoding":{"x":{"datum":0.09946,"type":"quantitative","scale":{"domain":[-0.0095,0.1995],"range":[0,1249.33],"nice":false,"zero":false},"axis":null},"y":{"datum":0.000002104,"type":"quantitative","scale":{"type":"log","domain":[0.00001,1.5],"nice":false},"axis":null}}},
{"data":{"values":[{}]},"mark":{"type":"text","text":"dN","font":"DejaVu Sans","fontStyle":"italic","fontSize":65.4,"align":"center","baseline":"alphabetic","angle":270,"color":"black"},
"encoding":{"x":{"datum":-0.04897,"type":"quantitative","scale":{"domain":[-0.0095,0.1995],"range":[0,1249.33],"nice":false,"zero":false},"axis":null},"y":{"datum":0.003802,"type":"quantitative","scale":{"type":"log","domain":[0.00001,1.5],"nice":false},"axis":null}}},
{"data":{"values":[{}]},"mark":{"type":"rule","strokeWidth":5,"color":"black"},
"encoding":{"x":{"datum":-0.04609,"type":"quantitative","scale":{"domain":[-0.0095,0.1995],"range":[0,1249.33],"nice":false,"zero":false},"axis":null},"y":{"datum":0.01253,"type":"quantitative","scale":{"type":"log","domain":[0.00001,1.5],"nice":false},"axis":null},"y2":{"datum":0.001145}}},
{"data":{"values":[{}]},"mark":{"type":"text","text":"N","font":"DejaVu Sans","fontStyle":"italic","fontSize":65.4,"align":"left","baseline":"alphabetic","angle":270,"color":"black"},
"encoding":{"x":{"datum":-0.03622,"type":"quantitative","scale":{"domain":[-0.0095,0.1995],"range":[0,1249.33],"nice":false,"zero":false},"axis":null},"y":{"datum":0.0011975,"type":"quantitative","scale":{"type":"log","domain":[0.00001,1.5],"nice":false},"axis":null}}},
{"data":{"values":[{}]},"mark":{"type":"text","text":"jets","font":"DejaVu Sans","fontStyle":"italic","fontSize":45.6,"align":"left","baseline":"alphabetic","angle":270,"dx":49.9,"dy":12,"color":"black"},
"encoding":{"x":{"datum":-0.03622,"type":"quantitative","scale":{"domain":[-0.0095,0.1995],"range":[0,1249.33],"nice":false,"zero":false},"axis":null},"y":{"datum":0.0011975,"type":"quantitative","scale":{"type":"log","domain":[0.00001,1.5],"nice":false},"axis":null}}},
{"data":{"values":[{}]},"mark":{"type":"text","text":"dX","font":"DejaVu Sans","fontStyle":"italic","fontSize":65.4,"align":"left","baseline":"alphabetic","angle":270,"dx":132.4,"color":"black"},
"encoding":{"x":{"datum":-0.03622,"type":"quantitative","scale":{"domain":[-0.0095,0.1995],"range":[0,1249.33],"nice":false,"zero":false},"axis":null},"y":{"datum":0.0011975,"type":"quantitative","scale":{"type":"log","domain":[0.00001,1.5],"nice":false},"axis":null}}}
]},
{"resolve":{"axis":{"x":"independent","y":"independent"}},
"layer":[
{"data":{"name":"bands"},"transform":[{"filter":"datum.p=='b'&&datum.s=='ic'"}],"mark":{"type":"area","clip":true,"fill":"#0000ff","fillOpacity":0.04,"stroke":"#0000ff","strokeOpacity":0.04,"strokeWidth":2},
"encoding":{"x":{"field":"x","type":"quantitative","scale":{"domain":[-0.01387,0.2912],"range":[1249.33,2498.67],"nice":false,"zero":false},"axis":{"orient":"bottom","values":[0,0.05,0.1,0.15,0.2,0.25],"format":".2f","ticks":false,"labelFont":"Liberation Serif","labelFontSize":69.7,"labelPadding":2,"labelFlush":false,"labelOverlap":false,"labelBound":false,"title":null}},
"y":{"field":"lo","type":"quantitative","scale":{"type":"log","domain":[0.00001,1.5],"nice":false},"axis":{"orient":"left","offset":-1249.33,"values":[0.00001,0.0001,0.001,0.01,0.1,1],"labels":false,"tickSize":-28.7,"tickWidth":3.5,"domain":true,"domainWidth":4.5,"domainColor":"black","title":null}},"y2":{"field":"hi"}}},
{"data":{"name":"bands"},"transform":[{"filter":"datum.p=='b'&&datum.s=='cb'"}],"mark":{"type":"area","clip":true,"fill":"#0000ff","fillOpacity":0.1,"stroke":"#0000ff","strokeOpacity":0.08,"strokeWidth":3},
"encoding":{"x":{"field":"x","type":"quantitative","scale":{"domain":[-0.01387,0.2912],"range":[1249.33,2498.67],"nice":false,"zero":false},"axis":{"orient":"bottom","values":[0,0.05,0.1,0.15,0.2,0.25],"labels":false,"tickSize":-34,"tickWidth":3.5,"title":null}},
"y":{"field":"lo","type":"quantitative","scale":{"type":"log","domain":[0.00001,1.5],"nice":false},"axis":{"orient":"left","offset":-1249.33,"values":[0.00002,0.00003,0.00004,0.00005,0.00006,0.00007,0.00008,0.00009,0.0002,0.0003,0.0004,0.0005,0.0006,0.0007,0.0008,0.0009,0.002,0.003,0.004,0.005,0.006,0.007,0.008,0.009,0.02,0.03,0.04,0.05,0.06,0.07,0.08,0.09,0.2,0.3,0.4,0.5,0.6,0.7,0.8,0.9],"labels":false,"tickSize":-17.2,"tickWidth":3.5,"title":null}},"y2":{"field":"hi"}}},
{"data":{"name":"bands"},"transform":[{"filter":"datum.p=='b'&&datum.s=='sg'"}],"mark":{"type":"area","clip":true,"fill":"#ff0000","fillOpacity":0.13,"stroke":"#ff0000","strokeOpacity":0.1,"strokeWidth":3},
"encoding":{"x":{"field":"x","type":"quantitative","scale":{"domain":[-0.01387,0.2912],"range":[1249.33,2498.67],"nice":false,"zero":false},"axis":{"orient":"bottom","values":[-0.01,0.01,0.02,0.03,0.04,0.06,0.07,0.08,0.09,0.11,0.12,0.13,0.14,0.16,0.17,0.18,0.19,0.21,0.22,0.23,0.24,0.26,0.27,0.28,0.29],"labels":false,"tickSize":-20,"tickWidth":3.5,"title":null}},
"y":{"field":"lo","type":"quantitative","scale":{"type":"log","domain":[0.00001,1.5],"nice":false},"axis":{"orient":"right","offset":-1249.33,"values":[0.00001,0.0001,0.001,0.01,0.1,1],"labels":false,"tickSize":-28.7,"tickWidth":3.5,"title":null}},"y2":{"field":"hi"}}},
{"data":{"name":"lines"},"transform":[{"filter":"datum.p=='b'&&datum.s=='ic'"}],"mark":{"type":"line","clip":true,"stroke":"#b0b0fa","strokeWidth":9,"strokeDash":[9,19],"strokeCap":"round","strokeJoin":"round"},
"encoding":{"x":{"field":"x","type":"quantitative","scale":{"domain":[-0.01387,0.2912],"range":[1249.33,2498.67],"nice":false,"zero":false},"axis":{"orient":"top","values":[0,0.05,0.1,0.15,0.2,0.25],"labels":false,"tickSize":-34,"tickWidth":3.5,"title":null}},
"y":{"field":"y","type":"quantitative","scale":{"type":"log","domain":[0.00001,1.5],"nice":false},"axis":{"orient":"right","offset":-1249.33,"values":[0.00002,0.00003,0.00004,0.00005,0.00006,0.00007,0.00008,0.00009,0.0002,0.0003,0.0004,0.0005,0.0006,0.0007,0.0008,0.0009,0.002,0.003,0.004,0.005,0.006,0.007,0.008,0.009,0.02,0.03,0.04,0.05,0.06,0.07,0.08,0.09,0.2,0.3,0.4,0.5,0.6,0.7,0.8,0.9],"labels":false,"tickSize":-17.2,"tickWidth":3.5,"title":null}}}},
{"data":{"name":"lines"},"transform":[{"filter":"datum.p=='b'&&(datum.s=='sig'||datum.s=='is')"}],"mark":{"type":"line","clip":true,"stroke":"#ffb0b0","strokeWidth":11,"strokeCap":"round","strokeJoin":"round"},
"encoding":{"x":{"field":"x","type":"quantitative","scale":{"domain":[-0.01387,0.2912],"range":[1249.33,2498.67],"nice":false,"zero":false},"axis":{"orient":"top","values":[-0.01,0.01,0.02,0.03,0.04,0.06,0.07,0.08,0.09,0.11,0.12,0.13,0.14,0.16,0.17,0.18,0.19,0.21,0.22,0.23,0.24,0.26,0.27,0.28,0.29],"labels":false,"tickSize":-20,"tickWidth":3.5,"title":null}},
"y":{"field":"y","type":"quantitative","scale":{"type":"log","domain":[0.00001,1.5],"nice":false},"axis":null}}},
{"data":{"name":"lines"},"transform":[{"filter":"datum.p=='b'&&(datum.s=='sig'||datum.s=='sg')"}],"mark":{"type":"line","clip":true,"stroke":"#ff2020","strokeWidth":11,"strokeDash":[47,44],"strokeCap":"round","strokeJoin":"round"},
"encoding":{"x":{"field":"x","type":"quantitative","scale":{"domain":[-0.01387,0.2912],"range":[1249.33,2498.67],"nice":false,"zero":false},"axis":null},"y":{"field":"y","type":"quantitative","scale":{"type":"log","domain":[0.00001,1.5],"nice":false},"axis":null}}},
{"data":{"name":"lines"},"transform":[{"filter":"datum.p=='b'&&datum.s=='cb'"}],"mark":{"type":"line","clip":true,"stroke":"#2424ff","strokeWidth":11,"strokeDash":[31,32],"strokeCap":"round","strokeJoin":"round"},
"encoding":{"x":{"field":"x","type":"quantitative","scale":{"domain":[-0.01387,0.2912],"range":[1249.33,2498.67],"nice":false,"zero":false},"axis":null},"y":{"field":"y","type":"quantitative","scale":{"type":"log","domain":[0.00001,1.5],"nice":false},"axis":null}}},
{"data":{"values":[{}]},"mark":{"type":"text","text":"b)","font":"Liberation Serif","fontSize":96.3,"align":"left","baseline":"alphabetic","color":"black"},
"encoding":{"x":{"datum":0.0012,"type":"quantitative","scale":{"domain":[-0.01387,0.2912],"range":[1249.33,2498.67],"nice":false,"zero":false},"axis":null},"y":{"datum":0.296,"type":"quantitative","scale":{"type":"log","domain":[0.00001,1.5],"nice":false},"axis":null}}},
{"data":{"values":[{}]},"mark":{"type":"text","text":"X=","font":"Liberation Serif","fontSize":96.3,"align":"right","baseline":"alphabetic","color":"black"},
"encoding":{"x":{"datum":0.1332,"type":"quantitative","scale":{"domain":[-0.01387,0.2912],"range":[1249.33,2498.67],"nice":false,"zero":false},"axis":null},"y":{"datum":0.000001834,"type":"quantitative","scale":{"type":"log","domain":[0.00001,1.5],"nice":false},"axis":null}}},
{"data":{"values":[{}]},"mark":{"type":"text","text":"λ","font":"DejaVu Sans","fontStyle":"italic","fontSize":96.3,"align":"left","baseline":"alphabetic","color":"black"},
"encoding":{"x":{"datum":0.1332,"type":"quantitative","scale":{"domain":[-0.01387,0.2912],"range":[1249.33,2498.67],"nice":false,"zero":false},"axis":null},"y":{"datum":0.000001834,"type":"quantitative","scale":{"type":"log","domain":[0.00001,1.5],"nice":false},"axis":null}}},
{"data":{"values":[{}]},"mark":{"type":"text","text":"1","font":"DejaVu Sans","fontSize":64.5,"align":"left","baseline":"alphabetic","dx":55.9,"dy":-37,"color":"black"},
"encoding":{"x":{"datum":0.1332,"type":"quantitative","scale":{"domain":[-0.01387,0.2912],"range":[1249.33,2498.67],"nice":false,"zero":false},"axis":null},"y":{"datum":0.000001834,"type":"quantitative","scale":{"type":"log","domain":[0.00001,1.5],"nice":false},"axis":null}}},
{"data":{"values":[{}]},"mark":{"type":"text","text":"1","font":"DejaVu Sans","fontSize":64.5,"align":"left","baseline":"alphabetic","dx":55.9,"dy":25.8,"color":"black"},
"encoding":{"x":{"datum":0.1332,"type":"quantitative","scale":{"domain":[-0.01387,0.2912],"range":[1249.33,2498.67],"nice":false,"zero":false},"axis":null},"y":{"datum":0.000001834,"type":"quantitative","scale":{"type":"log","domain":[0.00001,1.5],"nice":false},"axis":null}}}
]},
{"resolve":{"axis":{"x":"independent","y":"independent"}},
"layer":[
{"data":{"name":"bands"},"transform":[{"filter":"datum.p=='c'&&datum.s=='ic'"}],"mark":{"type":"area","clip":true,"fill":"#0000ff","fillOpacity":0.04,"stroke":"#0000ff","strokeOpacity":0.04,"strokeWidth":2},
"encoding":{"x":{"field":"x","type":"quantitative","scale":{"domain":[-0.139,3.082],"range":[2498.67,3748],"nice":false,"zero":false},"axis":{"orient":"bottom","values":[0,0.5,1,1.5,2,2.5,3],"format":".1f","ticks":false,"labelFont":"Liberation Serif","labelFontSize":69.7,"labelPadding":2,"labelFlush":false,"labelOverlap":false,"labelBound":false,"title":null}},
"y":{"field":"lo","type":"quantitative","scale":{"type":"log","domain":[0.00001,1.5],"nice":false},"axis":{"orient":"left","offset":-2498.67,"values":[0.00001,0.0001,0.001,0.01,0.1,1],"labels":false,"tickSize":-28.7,"tickWidth":3.5,"domain":true,"domainWidth":4.5,"domainColor":"black","title":null}},"y2":{"field":"hi"}}},
{"data":{"name":"bands"},"transform":[{"filter":"datum.p=='c'&&datum.s=='cb'"}],"mark":{"type":"area","clip":true,"fill":"#0000ff","fillOpacity":0.1,"stroke":"#0000ff","strokeOpacity":0.08,"strokeWidth":3},
"encoding":{"x":{"field":"x","type":"quantitative","scale":{"domain":[-0.139,3.082],"range":[2498.67,3748],"nice":false,"zero":false},"axis":{"orient":"bottom","values":[0,0.5,1,1.5,2,2.5,3],"labels":false,"tickSize":-34,"tickWidth":3.5,"title":null}},
"y":{"field":"lo","type":"quantitative","scale":{"type":"log","domain":[0.00001,1.5],"nice":false},"axis":{"orient":"left","offset":-2498.67,"values":[0.00002,0.00003,0.00004,0.00005,0.00006,0.00007,0.00008,0.00009,0.0002,0.0003,0.0004,0.0005,0.0006,0.0007,0.0008,0.0009,0.002,0.003,0.004,0.005,0.006,0.007,0.008,0.009,0.02,0.03,0.04,0.05,0.06,0.07,0.08,0.09,0.2,0.3,0.4,0.5,0.6,0.7,0.8,0.9],"labels":false,"tickSize":-17.2,"tickWidth":3.5,"title":null}},"y2":{"field":"hi"}}},
{"data":{"name":"bands"},"transform":[{"filter":"datum.p=='c'&&datum.s=='sg'"}],"mark":{"type":"area","clip":true,"fill":"#ff0000","fillOpacity":0.13,"stroke":"#ff0000","strokeOpacity":0.1,"strokeWidth":3},
"encoding":{"x":{"field":"x","type":"quantitative","scale":{"domain":[-0.139,3.082],"range":[2498.67,3748],"nice":false,"zero":false},"axis":{"orient":"bottom","values":[-0.1,0.1,0.2,0.3,0.4,0.6,0.7,0.8,0.9,1.1,1.2,1.3,1.4,1.6,1.7,1.8,1.9,2.1,2.2,2.3,2.4,2.6,2.7,2.8,2.9],"labels":false,"tickSize":-20,"tickWidth":3.5,"title":null}},
"y":{"field":"lo","type":"quantitative","scale":{"type":"log","domain":[0.00001,1.5],"nice":false},"axis":{"orient":"right","values":[0.00001,0.0001,0.001,0.01,0.1,1],"labels":false,"tickSize":-28.7,"tickWidth":3.5,"title":null}},"y2":{"field":"hi"}}},
{"data":{"name":"lines"},"transform":[{"filter":"datum.p=='c'&&datum.s=='ic'"}],"mark":{"type":"line","clip":true,"stroke":"#b0b0fa","strokeWidth":9,"strokeDash":[9,19],"strokeCap":"round","strokeJoin":"round"},
"encoding":{"x":{"field":"x","type":"quantitative","scale":{"domain":[-0.139,3.082],"range":[2498.67,3748],"nice":false,"zero":false},"axis":{"orient":"top","values":[0,0.5,1,1.5,2,2.5,3],"labels":false,"tickSize":-34,"tickWidth":3.5,"title":null}},
"y":{"field":"y","type":"quantitative","scale":{"type":"log","domain":[0.00001,1.5],"nice":false},"axis":{"orient":"right","values":[0.00002,0.00003,0.00004,0.00005,0.00006,0.00007,0.00008,0.00009,0.0002,0.0003,0.0004,0.0005,0.0006,0.0007,0.0008,0.0009,0.002,0.003,0.004,0.005,0.006,0.007,0.008,0.009,0.02,0.03,0.04,0.05,0.06,0.07,0.08,0.09,0.2,0.3,0.4,0.5,0.6,0.7,0.8,0.9],"labels":false,"tickSize":-17.2,"tickWidth":3.5,"title":null}}}},
{"data":{"name":"lines"},"transform":[{"filter":"datum.p=='c'&&(datum.s=='sig'||datum.s=='is')"}],"mark":{"type":"line","clip":true,"stroke":"#ffb0b0","strokeWidth":11,"strokeCap":"round","strokeJoin":"round"},
"encoding":{"x":{"field":"x","type":"quantitative","scale":{"domain":[-0.139,3.082],"range":[2498.67,3748],"nice":false,"zero":false},"axis":{"orient":"top","values":[-0.1,0.1,0.2,0.3,0.4,0.6,0.7,0.8,0.9,1.1,1.2,1.3,1.4,1.6,1.7,1.8,1.9,2.1,2.2,2.3,2.4,2.6,2.7,2.8,2.9],"labels":false,"tickSize":-20,"tickWidth":3.5,"title":null}},
"y":{"field":"y","type":"quantitative","scale":{"type":"log","domain":[0.00001,1.5],"nice":false},"axis":null}}},
{"data":{"name":"lines"},"transform":[{"filter":"datum.p=='c'&&(datum.s=='sig'||datum.s=='sg')"}],"mark":{"type":"line","clip":true,"stroke":"#ff2020","strokeWidth":11,"strokeDash":[47,44],"strokeCap":"round","strokeJoin":"round"},
"encoding":{"x":{"field":"x","type":"quantitative","scale":{"domain":[-0.139,3.082],"range":[2498.67,3748],"nice":false,"zero":false},"axis":null},"y":{"field":"y","type":"quantitative","scale":{"type":"log","domain":[0.00001,1.5],"nice":false},"axis":null}}},
{"data":{"name":"lines"},"transform":[{"filter":"datum.p=='c'&&datum.s=='cb'"}],"mark":{"type":"line","clip":true,"stroke":"#2424ff","strokeWidth":11,"strokeDash":[31,32],"strokeCap":"round","strokeJoin":"round"},
"encoding":{"x":{"field":"x","type":"quantitative","scale":{"domain":[-0.139,3.082],"range":[2498.67,3748],"nice":false,"zero":false},"axis":null},"y":{"field":"y","type":"quantitative","scale":{"type":"log","domain":[0.00001,1.5],"nice":false},"axis":null}}},
{"data":{"values":[{}]},"mark":{"type":"text","text":"c)","font":"Liberation Serif","fontSize":96.3,"align":"left","baseline":"alphabetic","color":"black"},
"encoding":{"x":{"datum":0.004,"type":"quantitative","scale":{"domain":[-0.139,3.082],"range":[2498.67,3748],"nice":false,"zero":false},"axis":null},"y":{"datum":0.296,"type":"quantitative","scale":{"type":"log","domain":[0.00001,1.5],"nice":false},"axis":null}}},
{"data":{"values":[{}]},"mark":{"type":"rule","stroke":"#ffb0b0","strokeWidth":11},
"encoding":{"x":{"datum":0.9445,"type":"quantitative","scale":{"domain":[-0.139,3.082],"range":[2498.67,3748],"nice":false,"zero":false},"axis":null},"x2":{"datum":1.2909},"y":{"datum":0.4175,"type":"quantitative","scale":{"type":"log","domain":[0.00001,1.5],"nice":false},"axis":null}}},
{"data":{"values":[{}]},"mark":{"type":"rule","stroke":"#b0b0fa","strokeWidth":9,"strokeDash":[9,19],"strokeCap":"round"},
"encoding":{"x":{"datum":0.9445,"type":"quantitative","scale":{"domain":[-0.139,3.082],"range":[2498.67,3748],"nice":false,"zero":false},"axis":null},"x2":{"datum":1.2909},"y":{"datum":0.1094,"type":"quantitative","scale":{"type":"log","domain":[0.00001,1.5],"nice":false},"axis":null}}},
{"data":{"values":[{}]},"mark":{"type":"rule","stroke":"#ff2020","strokeWidth":11,"strokeDash":[47,44],"strokeCap":"round"},
"encoding":{"x":{"datum":0.9445,"type":"quantitative","scale":{"domain":[-0.139,3.082],"range":[2498.67,3748],"nice":false,"zero":false},"axis":null},"x2":{"datum":1.2909},"y":{"datum":0.02175,"type":"quantitative","scale":{"type":"log","domain":[0.00001,1.5],"nice":false},"axis":null}}},
{"data":{"values":[{}]},"mark":{"type":"rule","stroke":"#2424ff","strokeWidth":11,"strokeDash":[31,32],"strokeCap":"round"},
"encoding":{"x":{"datum":0.9445,"type":"quantitative","scale":{"domain":[-0.139,3.082],"range":[2498.67,3748],"nice":false,"zero":false},"axis":null},"x2":{"datum":1.2909},"y":{"datum":0.002958,"type":"quantitative","scale":{"type":"log","domain":[0.00001,1.5],"nice":false},"axis":null}}},
{"data":{"values":[{}]},"mark":{"type":"text","text":"Inclusive Signal","font":"Liberation Serif","fontSize":58,"align":"left","baseline":"alphabetic","color":"black"},
"encoding":{"x":{"datum":1.5487,"type":"quantitative","scale":{"domain":[-0.139,3.082],"range":[2498.67,3748],"nice":false,"zero":false},"axis":null},"y":{"datum":0.2853,"type":"quantitative","scale":{"type":"log","domain":[0.00001,1.5],"nice":false},"axis":null}}},
{"data":{"values":[{}]},"mark":{"type":"text","text":"Inclusive Combinatorial","font":"Liberation Serif","fontSize":58,"align":"left","baseline":"alphabetic","color":"black"},
"encoding":{"x":{"datum":1.5487,"type":"quantitative","scale":{"domain":[-0.139,3.082],"range":[2498.67,3748],"nice":false,"zero":false},"axis":null},"y":{"datum":0.07348,"type":"quantitative","scale":{"type":"log","domain":[0.00001,1.5],"nice":false},"axis":null}}},
{"data":{"values":[{}]},"mark":{"type":"text","text":"Signal","font":"Liberation Serif","fontSize":58,"align":"left","baseline":"alphabetic","color":"black"},
"encoding":{"x":{"datum":1.5487,"type":"quantitative","scale":{"domain":[-0.139,3.082],"range":[2498.67,3748],"nice":false,"zero":false},"axis":null},"y":{"datum":0.02467,"type":"quantitative","scale":{"type":"log","domain":[0.00001,1.5],"nice":false},"axis":null}}},
{"data":{"values":[{}]},"mark":{"type":"text","text":"Combinatorial","font":"Liberation Serif","fontSize":58,"align":"left","baseline":"alphabetic","color":"black"},
"encoding":{"x":{"datum":1.5487,"type":"quantitative","scale":{"domain":[-0.139,3.082],"range":[2498.67,3748],"nice":false,"zero":false},"axis":null},"y":{"datum":0.003412,"type":"quantitative","scale":{"type":"log","domain":[0.00001,1.5],"nice":false},"axis":null}}},
{"data":{"values":[{}]},"mark":{"type":"text","text":"p","font":"DejaVu Sans","fontStyle":"italic","fontSize":60.2,"align":"left","baseline":"alphabetic","color":"black"},
"encoding":{"x":{"datum":1.5487,"type":"quantitative","scale":{"domain":[-0.139,3.082],"range":[2498.67,3748],"nice":false,"zero":false},"axis":null},"y":{"datum":0.010715,"type":"quantitative","scale":{"type":"log","domain":[0.00001,1.5],"nice":false},"axis":null}}},
{"data":{"values":[{}]},"mark":{"type":"text","text":"1","font":"DejaVu Sans","fontSize":42.1,"align":"left","baseline":"alphabetic","dx":37.8,"dy":-22.4,"color":"black"},
"encoding":{"x":{"datum":1.5487,"type":"quantitative","scale":{"domain":[-0.139,3.082],"range":[2498.67,3748],"nice":false,"zero":false},"axis":null},"y":{"datum":0.010715,"type":"quantitative","scale":{"type":"log","domain":[0.00001,1.5],"nice":false},"axis":null}}},
{"data":{"values":[{}]},"mark":{"type":"text","text":"T","font":"DejaVu Sans","fontStyle":"italic","fontSize":42.1,"align":"left","baseline":"alphabetic","dx":36.1,"dy":13.8,"color":"black"},
"encoding":{"x":{"datum":1.5487,"type":"quantitative","scale":{"domain":[-0.139,3.082],"range":[2498.67,3748],"nice":false,"zero":false},"axis":null},"y":{"datum":0.010715,"type":"quantitative","scale":{"type":"log","domain":[0.00001,1.5],"nice":false},"axis":null}}},
{"data":{"values":[{}]},"mark":{"type":"text","text":">","font":"DejaVu Sans","fontSize":60.2,"align":"left","baseline":"alphabetic","dx":85.1,"color":"black"},
"encoding":{"x":{"datum":1.5487,"type":"quantitative","scale":{"domain":[-0.139,3.082],"range":[2498.67,3748],"nice":false,"zero":false},"axis":null},"y":{"datum":0.010715,"type":"quantitative","scale":{"type":"log","domain":[0.00001,1.5],"nice":false},"axis":null}}},
{"data":{"values":[{}]},"mark":{"type":"text","text":"3.0","font":"DejaVu Sans","fontSize":60.2,"align":"left","baseline":"alphabetic","dx":142.8,"color":"black"},
"encoding":{"x":{"datum":1.5487,"type":"quantitative","scale":{"domain":[-0.139,3.082],"range":[2498.67,3748],"nice":false,"zero":false},"axis":null},"y":{"datum":0.010715,"type":"quantitative","scale":{"type":"log","domain":[0.00001,1.5],"nice":false},"axis":null}}},
{"data":{"values":[{}]},"mark":{"type":"text","text":"GeV/c","font":"DejaVu Sans","fontStyle":"italic","fontSize":60.2,"align":"left","baseline":"alphabetic","dx":238.2,"color":"black"},
"encoding":{"x":{"datum":1.5487,"type":"quantitative","scale":{"domain":[-0.139,3.082],"range":[2498.67,3748],"nice":false,"zero":false},"axis":null},"y":{"datum":0.010715,"type":"quantitative","scale":{"type":"log","domain":[0.00001,1.5],"nice":false},"axis":null}}},
{"data":{"values":[{}]},"mark":{"type":"text","text":"p","font":"DejaVu Sans","fontStyle":"italic","fontSize":60.2,"align":"left","baseline":"alphabetic","color":"black"},
"encoding":{"x":{"datum":1.5487,"type":"quantitative","scale":{"domain":[-0.139,3.082],"range":[2498.67,3748],"nice":false,"zero":false},"axis":null},"y":{"datum":0.001493,"type":"quantitative","scale":{"type":"log","domain":[0.00001,1.5],"nice":false},"axis":null}}},
{"data":{"values":[{}]},"mark":{"type":"text","text":"1","font":"DejaVu Sans","fontSize":42.1,"align":"left","baseline":"alphabetic","dx":37.8,"dy":-22.4,"color":"black"},
"encoding":{"x":{"datum":1.5487,"type":"quantitative","scale":{"domain":[-0.139,3.082],"range":[2498.67,3748],"nice":false,"zero":false},"axis":null},"y":{"datum":0.001493,"type":"quantitative","scale":{"type":"log","domain":[0.00001,1.5],"nice":false},"axis":null}}},
{"data":{"values":[{}]},"mark":{"type":"text","text":"T","font":"DejaVu Sans","fontStyle":"italic","fontSize":42.1,"align":"left","baseline":"alphabetic","dx":36.1,"dy":13.8,"color":"black"},
"encoding":{"x":{"datum":1.5487,"type":"quantitative","scale":{"domain":[-0.139,3.082],"range":[2498.67,3748],"nice":false,"zero":false},"axis":null},"y":{"datum":0.001493,"type":"quantitative","scale":{"type":"log","domain":[0.00001,1.5],"nice":false},"axis":null}}},
{"data":{"values":[{}]},"mark":{"type":"text","text":">","font":"DejaVu Sans","fontSize":60.2,"align":"left","baseline":"alphabetic","dx":85.1,"color":"black"},
"encoding":{"x":{"datum":1.5487,"type":"quantitative","scale":{"domain":[-0.139,3.082],"range":[2498.67,3748],"nice":false,"zero":false},"axis":null},"y":{"datum":0.001493,"type":"quantitative","scale":{"type":"log","domain":[0.00001,1.5],"nice":false},"axis":null}}},
{"data":{"values":[{}]},"mark":{"type":"text","text":"3.0","font":"DejaVu Sans","fontSize":60.2,"align":"left","baseline":"alphabetic","dx":142.8,"color":"black"},
"encoding":{"x":{"datum":1.5487,"type":"quantitative","scale":{"domain":[-0.139,3.082],"range":[2498.67,3748],"nice":false,"zero":false},"axis":null},"y":{"datum":0.001493,"type":"quantitative","scale":{"type":"log","domain":[0.00001,1.5],"nice":false},"axis":null}}},
{"data":{"values":[{}]},"mark":{"type":"text","text":"GeV/c","font":"DejaVu Sans","fontStyle":"italic","fontSize":60.2,"align":"left","baseline":"alphabetic","dx":238.2,"color":"black"},
"encoding":{"x":{"datum":1.5487,"type":"quantitative","scale":{"domain":[-0.139,3.082],"range":[2498.67,3748],"nice":false,"zero":false},"axis":null},"y":{"datum":0.001493,"type":"quantitative","scale":{"type":"log","domain":[0.00001,1.5],"nice":false},"axis":null}}},
{"data":{"values":[{}]},"mark":{"type":"text","text":"X=","font":"Liberation Serif","fontSize":96.3,"align":"right","baseline":"alphabetic","color":"black"},
"encoding":{"x":{"datum":0.9994,"type":"quantitative","scale":{"domain":[-0.139,3.082],"range":[2498.67,3748],"nice":false,"zero":false},"axis":null},"y":{"datum":0.000002104,"type":"quantitative","scale":{"type":"log","domain":[0.00001,1.5],"nice":false},"axis":null}}},
{"data":{"values":[{}]},"mark":{"type":"text","text":"⟨","font":"DejaVu Sans","fontSize":96.3,"align":"left","baseline":"alphabetic","color":"black"},
"encoding":{"x":{"datum":0.9994,"type":"quantitative","scale":{"domain":[-0.139,3.082],"range":[2498.67,3748],"nice":false,"zero":false},"axis":null},"y":{"datum":0.000002104,"type":"quantitative","scale":{"type":"log","domain":[0.00001,1.5],"nice":false},"axis":null}}},
{"data":{"values":[{}]},"mark":{"type":"text","text":"p","font":"DejaVu Sans","fontStyle":"italic","fontSize":96.3,"align":"left","baseline":"alphabetic","dx":30,"color":"black"},
"encoding":{"x":{"datum":0.9994,"type":"quantitative","scale":{"domain":[-0.139,3.082],"range":[2498.67,3748],"nice":false,"zero":false},"axis":null},"y":{"datum":0.000002104,"type":"quantitative","scale":{"type":"log","domain":[0.00001,1.5],"nice":false},"axis":null}}},
{"data":{"values":[{}]},"mark":{"type":"text","text":"T","font":"DejaVu Sans","fontStyle":"italic","fontSize":67.1,"align":"left","baseline":"alphabetic","dx":73,"dy":18.9,"color":"black"},
"encoding":{"x":{"datum":0.9994,"type":"quantitative","scale":{"domain":[-0.139,3.082],"range":[2498.67,3748],"nice":false,"zero":false},"axis":null},"y":{"datum":0.000002104,"type":"quantitative","scale":{"type":"log","domain":[0.00001,1.5],"nice":false},"axis":null}}},
{"data":{"values":[{}]},"mark":{"type":"text","text":"⟩[","font":"DejaVu Sans","fontSize":96.3,"align":"left","baseline":"alphabetic","dx":116,"color":"black"},
"encoding":{"x":{"datum":0.9994,"type":"quantitative","scale":{"domain":[-0.139,3.082],"range":[2498.67,3748],"nice":false,"zero":false},"axis":null},"y":{"datum":0.000002104,"type":"quantitative","scale":{"type":"log","domain":[0.00001,1.5],"nice":false},"axis":null}}},
{"data":{"values":[{}]},"mark":{"type":"text","text":"GeV/c","font":"DejaVu Sans","fontStyle":"italic","fontSize":96.3,"align":"left","baseline":"alphabetic","dx":190.9,"color":"black"},
"encoding":{"x":{"datum":0.9994,"type":"quantitative","scale":{"domain":[-0.139,3.082],"range":[2498.67,3748],"nice":false,"zero":false},"axis":null},"y":{"datum":0.000002104,"type":"quantitative","scale":{"type":"log","domain":[0.00001,1.5],"nice":false},"axis":null}}},
{"data":{"values":[{}]},"mark":{"type":"text","text":"]","font":"DejaVu Sans","fontSize":96.3,"align":"left","baseline":"alphabetic","dx":472,"color":"black"},
"encoding":{"x":{"datum":0.9994,"type":"quantitative","scale":{"domain":[-0.139,3.082],"range":[2498.67,3748],"nice":false,"zero":false},"axis":null},"y":{"datum":0.000002104,"type":"quantitative","scale":{"type":"log","domain":[0.00001,1.5],"nice":false},"axis":null}}}
]}
]
}
